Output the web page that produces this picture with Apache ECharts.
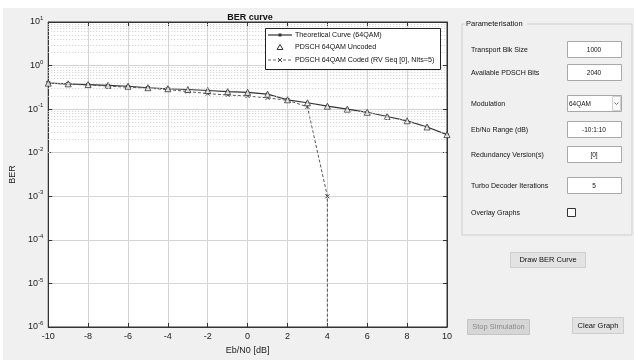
<!DOCTYPE html>
<html>
<head>
<meta charset="utf-8">
<script src="https://cdn.jsdelivr.net/npm/echarts@6/dist/echarts.min.js"></script>
<style>
  html, body { margin: 0; padding: 0; background: #ffffff; }
  #chart { width: 634px; height: 360px; }
</style>
</head>
<body>
<div id="chart"></div>
<script>
// Eb/N0 sweep (dB)
const ebn0 = [-10, -9, -8, -7, -6, -5, -4, -3, -2, -1, 0, 1, 2, 3, 4, 5, 6, 7, 8, 9, 10];
// Theoretical 64QAM BER
const theoretical = [0.395, 0.381, 0.366, 0.352, 0.335, 0.310, 0.294, 0.282, 0.268, 0.252, 0.243,
                     0.221, 0.164, 0.140, 0.117, 0.100, 0.0847, 0.0678, 0.054, 0.0389, 0.026];
// Simulated uncoded PDSCH BER
const uncoded = [0.395, 0.381, 0.366, 0.352, 0.335, 0.310, 0.294, 0.282, 0.268, 0.252, 0.243,
                 0.221, 0.164, 0.140, 0.117, 0.100, 0.0847, 0.0678, 0.054, 0.0389, 0.026];
// Simulated coded PDSCH BER (last point: no errors, drawn at the axis floor)
const codedEbn0 = [-10, -9, -8, -7, -6, -5, -4, -3, -2, -1, 0, 1, 2, 3, 4, 4];
const coded = [0.395, 0.375, 0.357, 0.338, 0.318, 0.304, 0.280, 0.254, 0.227, 0.211, 0.200,
               0.181, 0.160, 0.113, 1e-3, 1e-6];
// Axis settings
const xTicks = [-10, -8, -6, -4, -2, 0, 2, 4, 6, 8, 10];
const yMin = 1e-6, yMax = 10;

const seriesNames = ['Theoretical Curve (64QAM)', 'PDSCH 64QAM Uncoded', 'PDSCH 64QAM Coded (RV Seq [0], NIts=5)'];

// Panel fields
const paramLabels = ['Transport Blk Size', 'Available PDSCH Bits', 'Modulation', 'Eb/No Range (dB)',
                     'Redundancy Version(s)', 'Turbo Decoder Iterations', 'Overlay Graphs'];
const paramValues = ['1000', '2040', '64QAM', '-10:1:10', '[0]', '5', ''];

const FONT = 'Liberation Sans, Arial, sans-serif';

// minor log grid lines at 2..9 x 10^k
const minorLines = [];
for (let e = -6; e < 1; e++) {
  for (let m = 2; m <= 9; m++) minorLines.push({ yAxis: m * Math.pow(10, e) });
}

const pair = (xs, ys) => xs.map((x, i) => [x, ys[i]]);

const G = [];
const add = el => { el.silent = true; G.push(el); };

// window background
add({ type: 'rect', shape: { x: 3, y: 8, width: 631, height: 352 }, style: { fill: '#f0f0f0' }, z: -10 });

// legend box
const lgX = 265.5, lgY = 28.5, lgRows = [35, 47.5, 60];
add({ type: 'rect', shape: { x: lgX, y: lgY, width: 175, height: 41 }, style: { fill: '#fff', stroke: '#222', lineWidth: 1 }, z: 20 });
// theoretical: solid line with small square marker
add({ type: 'line', shape: { x1: 268, y1: lgRows[0], x2: 292, y2: lgRows[0] }, style: { stroke: '#333', lineWidth: 1.2 }, z: 21 });
add({ type: 'rect', shape: { x: 278.5, y: lgRows[0] - 1.5, width: 3, height: 3 }, style: { fill: '#333' }, z: 21 });
// uncoded: triangle only
add({ type: 'polygon', shape: { points: [[280, lgRows[1] - 3], [283, lgRows[1] + 2], [277, lgRows[1] + 2]] }, style: { fill: '#fff', stroke: '#333', lineWidth: 1 }, z: 21 });
// coded: dashed line with cross marker
add({ type: 'line', shape: { x1: 268, y1: lgRows[2], x2: 292, y2: lgRows[2] }, style: { stroke: '#666', lineWidth: 1, lineDash: [3, 2] }, z: 21 });
add({ type: 'polyline', shape: { points: [[278, lgRows[2] - 2], [282, lgRows[2] + 2]] }, style: { stroke: '#444', lineWidth: 1, fill: null }, z: 21 });
add({ type: 'polyline', shape: { points: [[282, lgRows[2] - 2], [278, lgRows[2] + 2]] }, style: { stroke: '#444', lineWidth: 1, fill: null }, z: 21 });
seriesNames.forEach((n, i) => {
  add({ type: 'text', x: 295, y: lgRows[i], style: { text: n, font: '7.1px ' + FONT, fill: '#111', verticalAlign: 'middle' }, z: 21 });
});

// right-hand parameter panel
const rowY = [50, 73, 104, 130, 155, 186, 213];
add({ type: 'polyline', shape: { points: [[465, 24], [462, 24], [462, 235], [632, 235], [632, 24], [527, 24]] },
  style: { stroke: '#cfcfcf', lineWidth: 1, fill: null } });
add({ type: 'text', x: 466, y: 24, style: { text: 'Parameterisation', font: '7.5px ' + FONT, fill: '#111', verticalAlign: 'middle' } });
paramLabels.forEach((lab, i) => {
  add({ type: 'text', x: 471, y: rowY[i], style: { text: lab, font: '7px ' + FONT, fill: '#111', verticalAlign: 'middle' } });
  if (i === 6) {
    add({ type: 'rect', shape: { x: 567.5, y: 208.5, width: 8, height: 8 }, style: { fill: '#fff', stroke: '#333', lineWidth: 1 } });
    return;
  }
  add({ type: 'rect', shape: { x: 567.5, y: rowY[i] - 8.5, width: 54, height: 16 },
    style: { fill: '#fff', stroke: '#a8a8a8', lineWidth: 1 } });
  if (i === 2) {
    add({ type: 'text', x: 569, y: rowY[i], style: { text: paramValues[i], font: '6.5px ' + FONT, fill: '#111', verticalAlign: 'middle' } });
    add({ type: 'rect', shape: { x: 612.5, y: rowY[i] - 7.5, width: 8, height: 14 }, style: { fill: '#fafafa', stroke: '#d0d0d0', lineWidth: 1 } });
    add({ type: 'polyline', shape: { points: [[614.5, rowY[i] - 1.5], [616.5, rowY[i] + 0.5], [618.5, rowY[i] - 1.5]] }, style: { stroke: '#555', lineWidth: 0.8, fill: null } });
  } else {
    add({ type: 'text', x: 594, y: rowY[i], style: { text: paramValues[i], font: '6.5px ' + FONT, fill: '#111', align: 'center', verticalAlign: 'middle' } });
  }
});
function button(x, y, w, h, label, disabled) {
  add({ type: 'rect', shape: { x: x + 0.5, y: y + 0.5, width: w, height: h },
    style: { fill: disabled ? '#d6d6d6' : '#e3e3e3', stroke: disabled ? '#c4c4c4' : '#cdcdcd', lineWidth: 1 } });
  add({ type: 'text', x: x + w / 2 + 0.5, y: y + h / 2 + 0.5,
    style: { text: label, font: '7.5px ' + FONT, fill: disabled ? '#8a8a8a' : '#111', align: 'center', verticalAlign: 'middle' } });
}
button(510, 252, 75, 15, 'Draw BER Curve', false);
button(467, 319, 62, 15, 'Stop Simulation', true);
button(572, 317, 51, 16, 'Clear Graph', false);

const supLabel = v => '{b|10}{s|' + Math.round(Math.log10(v)) + '}';

// coded points; the floor point carries no marker
const codedData = pair(codedEbn0, coded).map((p, i, arr) =>
  i === arr.length - 1 ? { value: p, symbol: 'none' } : p);

const frameAxis = { show: true, onZero: false, lineStyle: { color: '#333' } };
const inTick = { inside: true, length: 4, lineStyle: { color: '#333' } };

const chart = echarts.init(document.getElementById('chart'), null, { renderer: 'canvas' });
chart.setOption({
  backgroundColor: '#ffffff',
  animation: false,
  textStyle: { fontFamily: FONT },
  title: {
    text: 'BER curve', left: 245, top: 8, textAlign: 'center',
    textStyle: { fontSize: 9, fontWeight: 'bold', color: '#111', fontFamily: FONT }
  },
  graphic: G,
  grid: { left: 43, right: 187, top: 22, bottom: 27, show: true, backgroundColor: '#fff', borderColor: '#333', borderWidth: 1 },
  xAxis: [{
    type: 'value', min: -10, max: 10, interval: 2,
    name: 'Eb/N0 [dB]', nameLocation: 'middle', nameGap: 19,
    nameTextStyle: { fontSize: 9, color: '#222' },
    axisLine: frameAxis, axisTick: inTick,
    axisLabel: { fontSize: 9, color: '#222', margin: 5, formatter: v => String(v) },
    splitLine: { show: true, lineStyle: { color: '#d4d4d4', width: 1 } }
  }, {
    type: 'value', min: -10, max: 10, interval: 2, position: 'top',
    axisLine: frameAxis, axisTick: inTick,
    axisLabel: { show: false }, splitLine: { show: false }
  }],
  yAxis: [{
    type: 'log', logBase: 10, min: yMin, max: yMax,
    name: 'BER', nameLocation: 'middle', nameGap: 26,
    nameTextStyle: { fontSize: 9, color: '#222' },
    axisLine: frameAxis, axisTick: inTick,
    axisLabel: {
      margin: 5, formatter: supLabel,
      rich: {
        b: { fontSize: 9, color: '#222', lineHeight: 12 },
        s: { fontSize: 6, color: '#222', lineHeight: 12, padding: [0, 0, 7, 0] }
      }
    },
    splitLine: { show: true, lineStyle: { color: '#d4d4d4', width: 1 } }
  }, {
    type: 'log', logBase: 10, min: yMin, max: yMax, position: 'right',
    axisLine: frameAxis, axisTick: inTick,
    axisLabel: { show: false }, splitLine: { show: false }
  }],
  series: [{
    name: 'grid-minor', type: 'line', data: [], silent: true,
    markLine: {
      silent: true, symbol: 'none', label: { show: false },
      lineStyle: { color: '#cdcdcd', type: [1, 2], width: 1 },
      emphasis: { disabled: true },
      data: minorLines
    }
  }, {
    name: seriesNames[0], type: 'line', data: pair(ebn0, theoretical),
    symbol: 'rect', symbolSize: 3,
    lineStyle: { color: '#333', width: 1.2 }, itemStyle: { color: '#333' }, z: 3
  }, {
    name: seriesNames[1], type: 'scatter', data: pair(ebn0, uncoded),
    symbol: 'triangle', symbolSize: 6,
    itemStyle: { color: '#fff', borderColor: '#333', borderWidth: 1 }, z: 4
  }, {
    name: seriesNames[2], type: 'line', data: codedData,
    symbol: 'path://M0,0L10,10M10,0L0,10', symbolSize: 4,
    lineStyle: { color: '#555', width: 1, type: [3, 2] },
    itemStyle: { color: 'none', borderColor: '#444', borderWidth: 1 }, z: 3
  }]
});
</script>
</body>
</html>
